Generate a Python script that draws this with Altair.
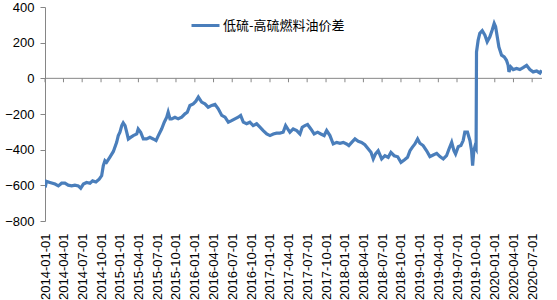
import altair as alt
import pandas as pd

series_name = "低硫-高硫燃料油价差"

dates = [
    "2014-01-02", "2014-01-08", "2014-01-25", "2014-02-19", "2014-03-07", "2014-03-23",
    "2014-04-08", "2014-04-24", "2014-05-11", "2014-05-27", "2014-06-12", "2014-06-24",
    "2014-07-07", "2014-07-23", "2014-08-08", "2014-08-21", "2014-09-06", "2014-09-22",
    "2014-10-04", "2014-10-12", "2014-10-20", "2014-10-28", "2014-11-14", "2014-11-30",
    "2014-12-16", "2014-12-24", "2015-01-01", "2015-01-10", "2015-01-17", "2015-01-26",
    "2015-02-03", "2015-02-11", "2015-02-22", "2015-03-07", "2015-03-24", "2015-03-31",
    "2015-04-12", "2015-04-25", "2015-05-11", "2015-05-27", "2015-06-12", "2015-06-26",
    "2015-07-07", "2015-07-23", "2015-08-05", "2015-08-17", "2015-08-24", "2015-09-02",
    "2015-09-10", "2015-09-26", "2015-10-12", "2015-10-29", "2015-11-14", "2015-11-25",
    "2015-12-08", "2015-12-24", "2016-01-06", "2016-01-18", "2016-02-03", "2016-02-19",
    "2016-03-06", "2016-03-23", "2016-04-08", "2016-04-24", "2016-05-11", "2016-05-27",
    "2016-06-12", "2016-06-28", "2016-07-14", "2016-07-30", "2016-08-11", "2016-08-24",
    "2016-09-09", "2016-09-25", "2016-10-11", "2016-10-28", "2016-11-13", "2016-11-29",
    "2016-12-16", "2017-01-01", "2017-01-17", "2017-02-02", "2017-02-18", "2017-03-06",
    "2017-03-18", "2017-03-29", "2017-04-08", "2017-04-24", "2017-05-11", "2017-05-27",
    "2017-06-07", "2017-06-20", "2017-07-03", "2017-07-19", "2017-08-04", "2017-08-21",
    "2017-09-06", "2017-09-22", "2017-10-04", "2017-10-20", "2017-11-05", "2017-11-22",
    "2017-12-08", "2017-12-24", "2018-01-09", "2018-01-20", "2018-02-03", "2018-02-19",
    "2018-03-07", "2018-03-23", "2018-04-08", "2018-04-25", "2018-05-08", "2018-05-19",
    "2018-05-30", "2018-06-12", "2018-06-29", "2018-07-15", "2018-07-31", "2018-08-13",
    "2018-08-29", "2018-09-15", "2018-10-01", "2018-10-17", "2018-11-02", "2018-11-14",
    "2018-11-25", "2018-12-08", "2018-12-21", "2019-01-01", "2019-01-17", "2019-02-03",
    "2019-02-19", "2019-03-07", "2019-03-24", "2019-04-09", "2019-04-25", "2019-05-11",
    "2019-05-23", "2019-06-05", "2019-06-16", "2019-06-24", "2019-07-07", "2019-07-20",
    "2019-07-31", "2019-08-08", "2019-08-21", "2019-09-02", "2019-09-10", "2019-09-15",
    "2019-09-21", "2019-09-26", "2019-10-02", "2019-10-04", "2019-10-12", "2019-10-20",
    "2019-11-01", "2019-11-14", "2019-11-25", "2019-12-08", "2019-12-19", "2019-12-29",
    "2020-01-05", "2020-01-13", "2020-01-21", "2020-02-03", "2020-02-16", "2020-02-27",
    "2020-03-06", "2020-03-10", "2020-03-19", "2020-03-31", "2020-04-16", "2020-05-02",
    "2020-05-18", "2020-06-04", "2020-06-20", "2020-07-06", "2020-07-23", "2020-08-08",
    "2020-08-16",
]

values = [
    -612, -578, -584, -593, -603, -588,
    -588, -599, -603, -599, -603, -616,
    -593, -584, -588, -575, -581, -565,
    -546, -490, -462, -471, -440, -410,
    -359, -321, -302, -265, -250, -265,
    -302, -340, -331, -321, -312, -284,
    -302, -340, -340, -331, -340, -349,
    -321, -284, -246, -218, -190, -227,
    -227, -218, -227, -218, -199, -190,
    -152, -143, -128, -105, -133, -143,
    -162, -152, -146, -171, -208, -218,
    -246, -237, -227, -218, -208, -246,
    -255, -246, -265, -255, -274, -293,
    -312, -321, -312, -307, -307, -302,
    -265, -285, -302, -284, -293, -312,
    -274, -265, -259, -284, -312, -302,
    -312, -321, -293, -321, -368, -359,
    -364, -359, -368, -377, -359, -340,
    -353, -359, -372, -396, -415, -452,
    -424, -406, -452, -434, -443, -415,
    -434, -440, -471, -458, -443, -406,
    -387, -368, -340, -364, -377, -406,
    -439, -430, -421, -439, -452, -434,
    -396, -359, -406, -424, -383, -377,
    -349, -302, -302, -349, -406, -490,
    -406, -383, -395, 148, 214, 252,
    267, 242, 205, 233, 270, 308,
    289, 233, 176, 130, 120, 101,
    73, 36, 64, 49, 55, 49,
    60, 73, 49, 36, 41, 30,
    45,
]

tick_dates = [
    "2014-01-01", "2014-04-01", "2014-07-01", "2014-10-01",
    "2015-01-01", "2015-04-01", "2015-07-01", "2015-10-01",
    "2016-01-01", "2016-04-01", "2016-07-01", "2016-10-01",
    "2017-01-01", "2017-04-01", "2017-07-01", "2017-10-01",
    "2018-01-01", "2018-04-01", "2018-07-01", "2018-10-01",
    "2019-01-01", "2019-04-01", "2019-07-01", "2019-10-01",
    "2020-01-01", "2020-04-01", "2020-07-01",
]
y_ticks = [-800, -600, -400, -200, 0, 200, 400]

x_start = "2014-01-01"
x_end = "2020-08-18"


def to_dt(s):
    y, m, d = (int(p) for p in s.split("-"))
    return alt.DateTime(year=y, month=m, date=d, utc=True)


df = pd.DataFrame({"date": dates, "value": values, "series": series_name})
ticks_df = pd.DataFrame({"date": tick_dates, "y0": 0, "y1": -22})
zero_df = pd.DataFrame({"start": [x_start], "end": [x_end], "y": [0]})

x_scale = alt.Scale(type="utc", domain=[to_dt(x_start), to_dt(x_end)], nice=False)
y_scale = alt.Scale(domain=[-800, 400], nice=False, zero=False)
axis_grey = "#868686"
font = "Liberation Sans"

x_axis = alt.Axis(
    values=[to_dt(t) for t in tick_dates],
    labelExpr="utcFormat(datum.value, '%Y-%m-%d')",
    labelAngle=-90,
    labelAlign="right",
    labelBaseline="middle",
    domain=False,
    ticks=False,
    labelPadding=12,
    labelFont=font,
    labelFontSize=13,
    labelColor="#000000",
    labelOverlap=False,
    labelFlush=False,
    grid=False,
    title=None,
)

y_axis = alt.Axis(
    values=y_ticks,
    grid=False,
    domainColor=axis_grey,
    tickColor=axis_grey,
    tickSize=5,
    labelPadding=6,
    labelFont=font,
    labelFontSize=13,
    labelColor="#000000",
    labelOverlap=False,
    title=None,
)

line = alt.Chart(df).mark_line(strokeWidth=3.2, clip=True).encode(
    x=alt.X("date:T", scale=x_scale, axis=x_axis),
    y=alt.Y("value:Q", scale=y_scale, axis=y_axis),
    color=alt.Color(
        "series:N",
        scale=alt.Scale(range=["#4A7EBB"]),
        legend=alt.Legend(
            title=None,
            orient="none",
            legendX=145,
            legendY=3,
            padding=0,
            symbolType="stroke",
            symbolSize=784,
            symbolStrokeWidth=3,
            labelFont="Noto Sans CJK SC",
            labelFontSize=13,
            labelColor="#000000",
            labelOffset=2,
        ),
    ),
)

zero_line = alt.Chart(zero_df).mark_rule(color=axis_grey, strokeWidth=1).encode(
    x=alt.X("start:T", scale=x_scale, axis=x_axis),
    x2="end:T",
    y=alt.Y("y:Q", scale=y_scale, axis=y_axis),
)

tick_marks = alt.Chart(ticks_df).mark_rule(color=axis_grey, strokeWidth=1).encode(
    x=alt.X("date:T", scale=x_scale, axis=x_axis),
    y=alt.Y("y0:Q", scale=y_scale, axis=y_axis),
    y2="y1:Q",
)

chart = (
    alt.layer(zero_line, tick_marks, line)
    .properties(
        width=497,
        height=214,
        padding={"left": 45, "top": 7, "right": 15, "bottom": 79},
        autosize=alt.AutoSizeParams(type="none"),
        background="white",
    )
    .configure_view(stroke=None)
)

chart.save("out.html", embed_options={"renderer": "svg", "actions": False})
